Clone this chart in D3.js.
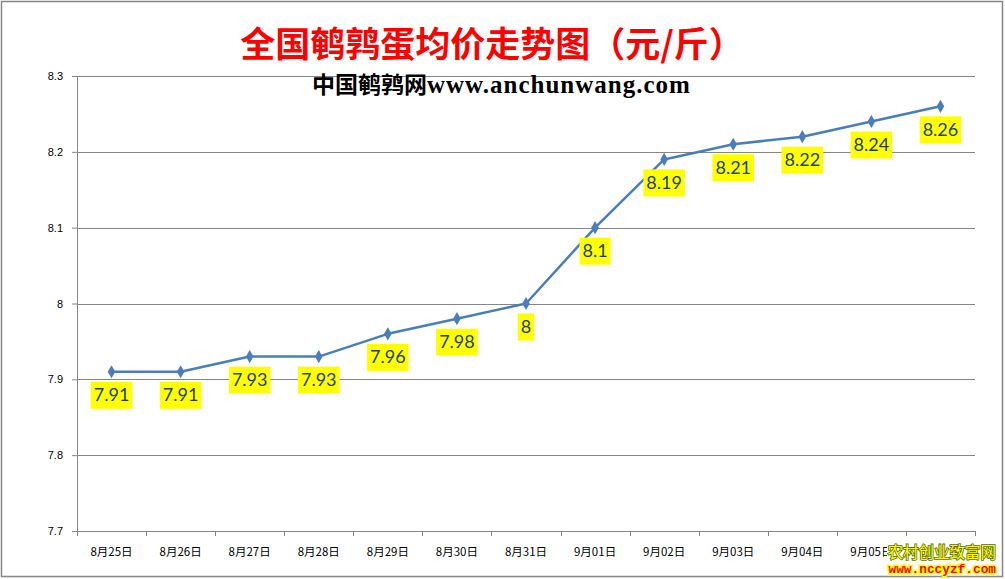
<!DOCTYPE html>
<html>
<head>
<meta charset="utf-8">
<script src="https://cdn.jsdelivr.net/npm/d3@7"></script>
<style>
  body { margin: 0; background: #fff; }
  svg { display: block; }
</style>
</head>
<body>
<div id="chart"></div>
<script>
// chart data
var dates = ["8月25日", "8月26日", "8月27日", "8月28日", "8月29日", "8月30日", "8月31日",
             "9月01日", "9月02日", "9月03日", "9月04日", "9月05日", "9月06日"];
var prices = [7.91, 7.91, 7.93, 7.93, 7.96, 7.98, 8, 8.1, 8.19, 8.21, 8.22, 8.24, 8.26];
var yTicks = [7.7, 7.8, 7.9, 8, 8.1, 8.2, 8.3];

var W = 1005, H = 579;
var margin = {top: 76, right: 30, bottom: 48, left: 77},
    width = 975 - margin.left,
    height = 531 - margin.top;

var svg = d3.select("#chart").append("svg")
    .attr("width", W)
    .attr("height", H);

// outer border
svg.append("rect")
  .attr("x", 1.5).attr("y", 1.5)
  .attr("width", W - 4).attr("height", H - 4)
  .attr("fill", "none")
  .attr("stroke", "#868686")
  .attr("stroke-width", 1.5);

var g = svg.append("g")
  .attr("transform", "translate(" + margin.left + "," + margin.top + ")");

var x = d3.scaleBand()
  .domain(dates)
  .range([0, width]);

var y = d3.scaleLinear()
  .domain([7.7, 8.3])
  .range([height, 0]);

// gridlines
g.append("g")
  .selectAll("line")
  .data(yTicks.slice(1))
  .join("line")
    .attr("x1", 0).attr("x2", width)
    .attr("y1", d => Math.round(y(d)) + 0.5)
    .attr("y2", d => Math.round(y(d)) + 0.5)
    .attr("stroke", "#868686")
    .attr("stroke-width", 1);

// y axis
var yAxis = g.append("g")
  .call(d3.axisLeft(y).tickValues(yTicks).tickSize(5).tickFormat(d3.format("")));
yAxis.select(".domain").attr("stroke", "#868686");
yAxis.selectAll("line").attr("stroke", "#868686");
yAxis.selectAll("text")
  .attr("x", -14)
  .style("font-family", "'Liberation Sans', Arial, sans-serif")
  .style("font-size", "11px")
  .attr("fill", "#000");

// x axis, ticks sit between categories
var xAxis = g.append("g")
  .attr("transform", "translate(0," + height + ")");
xAxis.append("line")
  .attr("x1", 0).attr("x2", width)
  .attr("y1", 0.5).attr("y2", 0.5)
  .attr("stroke", "#868686");
xAxis.selectAll("line.tick")
  .data(d3.range(dates.length + 1))
  .join("line")
    .attr("class", "tick")
    .attr("x1", i => Math.round(i * x.step()) + 0.5)
    .attr("x2", i => Math.round(i * x.step()) + 0.5)
    .attr("y1", 0).attr("y2", 5)
    .attr("stroke", "#868686");
xAxis.selectAll("text")
  .data(dates)
  .join("text")
    .attr("x", d => x(d) + x.bandwidth() / 2)
    .attr("y", 25)
    .attr("text-anchor", "middle")
    .style("font-family", "'Noto Sans CJK SC', sans-serif")
    .style("font-size", "11.5px")
    .attr("fill", "#000")
    .text(d => d);

// line
var line = d3.line()
  .x((d, i) => x(dates[i]) + x.bandwidth() / 2)
  .y(d => y(d));

g.append("path")
  .datum(prices)
  .attr("d", line)
  .attr("fill", "none")
  .attr("stroke", "#4a7ebb")
  .attr("stroke-width", 2.5)
  .attr("stroke-linejoin", "round");

// diamond markers
g.append("g")
  .selectAll("path")
  .data(prices)
  .join("path")
    .attr("transform", (d, i) => "translate(" + (x(dates[i]) + x.bandwidth() / 2) + "," + y(d) + ")")
    .attr("d", d3.symbol().type(d3.symbolDiamond).size(50))
    .attr("fill", "#4a7ebb");

// data labels with yellow background
var labels = g.append("g")
  .selectAll("g")
  .data(prices)
  .join("g")
    .attr("transform", (d, i) => "translate(" + (x(dates[i]) + x.bandwidth() / 2) + "," + (y(d) + 23) + ")");

labels.append("text")
  .attr("text-anchor", "middle")
  .attr("dy", "0.35em")
  .style("font-family", "Lato, 'Open Sans', sans-serif")
  .style("font-size", "18px")
  .attr("fill", "#243f60")
  .text(d => d);

labels.each(function() {
  var sel = d3.select(this);
  var bb = sel.select("text").node().getBBox();
  sel.insert("rect", "text")
    .attr("x", bb.x - 3)
    .attr("y", -13)
    .attr("width", bb.width + 6)
    .attr("height", 27)
    .attr("fill", "#ffff00");
});

// title
svg.append("text")
  .attr("x", 492)
  .attr("y", 57)
  .attr("text-anchor", "middle")
  .style("font-family", "'Noto Sans CJK SC', sans-serif")
  .style("font-weight", "bold")
  .style("font-size", "35px")
  .attr("fill", "#ff0000")
  .text("全国鹌鹑蛋均价走势图（元/斤）");

// subtitle
var sub = svg.append("text")
  .attr("x", 312)
  .attr("y", 93)
  .style("font-weight", "bold")
  .attr("fill", "#000");
sub.append("tspan")
  .style("font-family", "'Noto Sans CJK SC', sans-serif")
  .style("font-size", "23px")
  .text("中国鹌鹑网");
sub.append("tspan")
  .style("font-family", "'Liberation Serif', serif")
  .style("font-size", "25px")
  .style("letter-spacing", "1px")
  .text("www.anchunwang.com");

// watermark (covers the last date label, as in the source picture)
svg.append("rect")
  .attr("x", 887).attr("y", 541)
  .attr("width", 110).attr("height", 34)
  .attr("fill", "#fff");
svg.append("text")
  .attr("x", 996)
  .attr("y", 558)
  .attr("text-anchor", "end")
  .style("font-family", "'Noto Sans CJK SC', sans-serif")
  .style("font-size", "15.5px")
  .style("paint-order", "stroke")
  .attr("stroke", "#5a6a00")
  .attr("stroke-width", 1.6)
  .attr("fill", "#ffff00")
  .text("农村创业致富网");
svg.append("text")
  .attr("x", 996)
  .attr("y", 573)
  .attr("text-anchor", "end")
  .style("font-family", "'Liberation Mono', monospace")
  .style("font-weight", "bold")
  .style("font-size", "12.8px")
  .style("paint-order", "stroke")
  .attr("stroke", "#ffff00")
  .attr("stroke-width", 3)
  .attr("fill", "#ff0000")
  .text("www.nccyzf.com");
</script>
</body>
</html>
